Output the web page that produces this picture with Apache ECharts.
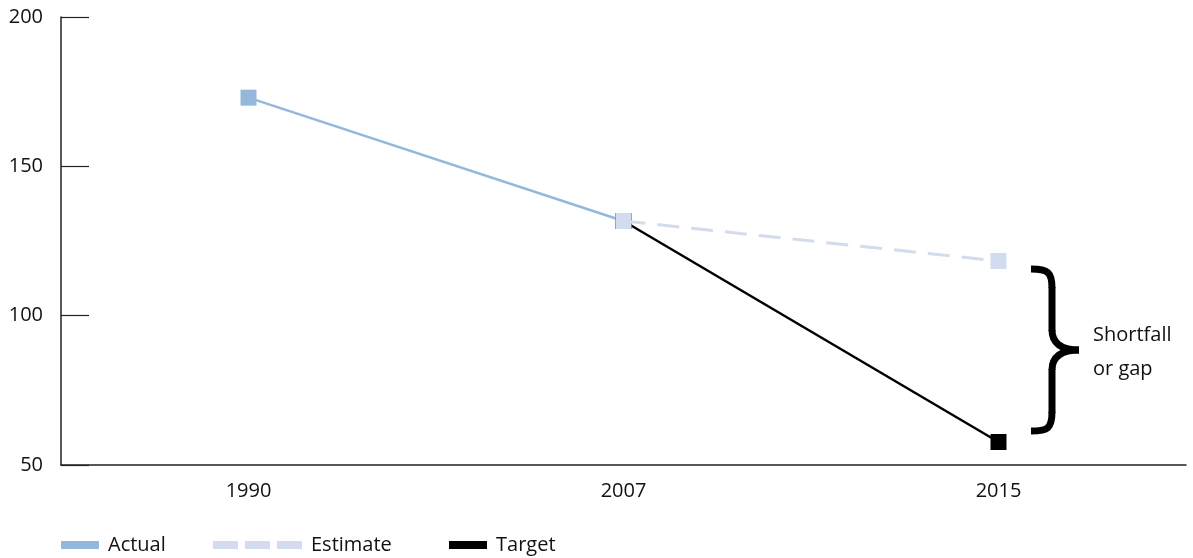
<!DOCTYPE html>
<html><head><meta charset="utf-8">
<script src="https://cdn.jsdelivr.net/npm/echarts@6/dist/echarts.min.js"></script>
<style>html,body{margin:0;padding:0;background:#fff}#c{width:1193px;height:558px}</style>
</head><body><div id="c"></div>
<script>
const categories = ['1990', '2007', '2015'];
const actual = [173, 131.7, null];
const estimate = [null, 131.7, 118.3];
const target = [null, 131.7, 57.7];
const yTicks = [50, 100, 150, 200];
const gapLabel = ['Shortfall', 'or gap'];

const FONT = '"Open Sans", "Noto Sans", sans-serif';
const C_ACT = '#94b8dc', C_EST = '#d3dcee', C_TGT = '#000000';
const chart = echarts.init(document.getElementById('c'));
const estIcon = 'path://M0,0H25V8H0Z M32,0H57V8H32Z M64,0H89V8H64Z';
function leg(name, left, w, icon) {
  return {data:[{name:name, icon:icon}], left:left, top:535, itemWidth:w, itemHeight:8,
    itemGap:0, textStyle:{fontFamily:FONT, fontSize:20, color:'#111', padding:[0,0,0,4]}, selectedMode:false, padding:0};
}
chart.setOption({
  animation:false,
  grid:{left:61, right:7, top:17, bottom:93},
  legend:[leg('Actual', 61, 38, 'rect'), leg('Estimate', 213, 89, estIcon), leg('Target', 449, 38, 'rect')],
  xAxis:{type:'category', data:categories, boundaryGap:true,
    axisLine:{lineStyle:{color:'#222', width:1.5}},
    axisTick:{inside:true, length:8, lineStyle:{color:'#222', width:1.2}},
    axisLabel:{fontFamily:FONT, fontSize:20, color:'#111', margin:16}},
  yAxis:{type:'value', min:50, max:200, interval:50,
    axisLine:{show:true, lineStyle:{color:'#222', width:1.5}},
    axisTick:{show:true, inside:true, length:28, lineStyle:{color:'#222', width:1.2}},
    splitLine:{show:false},
    axisLabel:{fontFamily:FONT, fontSize:20, color:'#111', margin:18,
      formatter:v => yTicks.includes(v) ? String(v) : ''}},
  series:[
    {name:'Actual', type:'line', data:actual, color:C_ACT, symbol:'rect', symbolSize:16,
      lineStyle:{width:2.5, color:C_ACT}, itemStyle:{color:C_ACT}, z:2},
    {name:'Target', type:'line', data:target, color:C_TGT, symbol:'rect', symbolSize:16,
      lineStyle:{width:2.5, color:C_TGT}, itemStyle:{color:C_TGT}, z:3},
    {name:'Estimate', type:'line', data:estimate, color:C_EST, symbol:'rect', symbolSize:16,
      lineStyle:{width:3, color:C_EST, type:[22,12]}, itemStyle:{color:C_EST}, z:4}
  ]
});
// brace annotation between estimate and target at 2015
const yTop = chart.convertToPixel({yAxisIndex:0}, estimate[2]) + 8;
const yBot = chart.convertToPixel({yAxisIndex:0}, target[2]) - 11;
const ym = (yTop + yBot) / 2;
const xl = 1031, xs = 1052, xt = 1079;
const bs = {stroke:'#000', lineWidth:7, fill:null};
function bz(x1,y1,c1x,c1y,c2x,c2y,x2,y2){
  return {type:'bezierCurve', shape:{x1:x1,y1:y1,cpx1:c1x,cpy1:c1y,cpx2:c2x,cpy2:c2y,x2:x2,y2:y2}, style:bs};
}
function ln(x1,y1,x2,y2){ return {type:'line', shape:{x1:x1,y1:y1,x2:x2,y2:y2}, style:bs}; }
chart.setOption({graphic:[
  bz(xl, yTop, xl+17, yTop, xs, yTop+3, xs, yTop+19),
  ln(xs, yTop+18, xs, ym-19),
  bz(xs, ym-20, xs, ym-7, xs+9, ym, xt, ym),
  bz(xt, ym, xs+9, ym, xs, ym+7, xs, ym+20),
  ln(xs, ym+19, xs, yBot-18),
  bz(xs, yBot-19, xs, yBot-3, xl+17, yBot, xl, yBot),
  {type:'text', left:1093, top:ym-32, style:{text:gapLabel.join('\n'), font:'20px ' + FONT, fill:'#111', lineHeight:34}}
]});
</script></body></html>
